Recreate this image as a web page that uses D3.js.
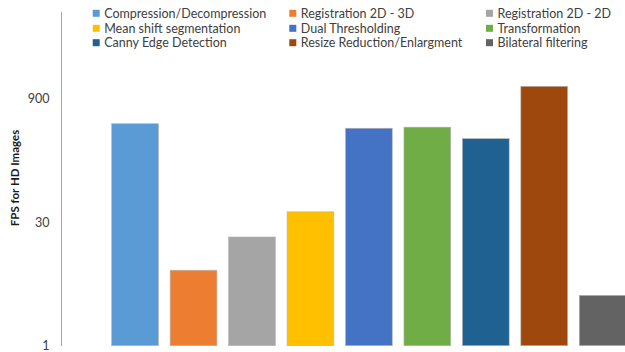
<!DOCTYPE html>
<html><head><meta charset="utf-8">
<script src="https://cdn.jsdelivr.net/npm/d3@7"></script>
<style>body{margin:0;background:#fff}svg{display:block}</style>
</head><body>
<svg id="c" width="625" height="352"></svg>
<script>
const categories = ["Compression/Decompression","Registration 2D - 3D","Registration 2D - 2D","Mean shift segmentation","Dual Thresholding","Transformation","Canny Edge Detection","Resize Reduction/Enlargment","Bilateral filtering"];
const values = [453, 8, 20, 40, 400, 412, 300, 1270, 4];
const colors = ["#5B9BD5","#ED7D31","#A5A5A5","#FFC000","#4472C4","#70AD47","#1F6191","#9E480E","#636363"];
const tickValues = [1, 30, 900];
const tickLabels = ["1","30","900"];
const yTitle = "FPS for HD Images";

const svg = d3.select("#c");
const font = "Lato, 'Liberation Sans', Arial, sans-serif";
const yBase = 345.7, yDec = 123.45, yTopPx = 12;
const y = d3.scaleLog().base(30).domain([1, 30**((yBase-yTopPx)/yDec)]).range([yBase, yTopPx]);
const x = d3.scaleBand().domain(categories).range([105.85, 631.9]).paddingInner(0.2).paddingOuter(0.1);

svg.selectAll("rect.bar").data(categories).join("rect")
  .attr("class","bar")
  .attr("x", d => x(d))
  .attr("width", x.bandwidth())
  .attr("y", (d,i) => y(values[i]))
  .attr("height", (d,i) => y(1) - y(values[i]))
  .attr("fill", (d,i) => colors[i])
  .attr("stroke", "#b4b4b4").attr("stroke-width", 0.6);

const ax = d3.axisLeft(y).tickValues(tickValues).tickFormat((d,i) => tickLabels[i]).tickSize(0).tickPadding(11.5);
const g = svg.append("g").attr("transform","translate(61,0)").call(ax);
g.select(".domain").attr("stroke","#a6a6a6").attr("stroke-width",1).attr("d","M0.5,12V346");
g.selectAll("text").attr("font-family",font).attr("font-size",12.5).attr("fill","#404040");

svg.append("text").attr("transform","translate(14.5,178) rotate(-90)")
  .attr("text-anchor","middle").attr("dy","0.35em").attr("font-family",font).attr("font-size",11.5)
  .attr("font-weight","bold").attr("fill","#1a1a1a").text(yTitle);

const colX = [92.7, 289.3, 486];
const rowY = [13.3, 28.3, 42.7];
const leg = svg.append("g");
categories.forEach((c,i) => {
  const cx = colX[i%3], cy = rowY[Math.floor(i/3)];
  leg.append("rect").attr("x",cx).attr("y",cy-3.5).attr("width",7).attr("height",7).attr("fill",colors[i]);
  leg.append("text").attr("x",cx+11.5).attr("y",cy).attr("dy","0.35em")
    .attr("font-family",font).attr("font-size",12.5).attr("fill","#404040").text(c);
});
</script>
</body></html>
